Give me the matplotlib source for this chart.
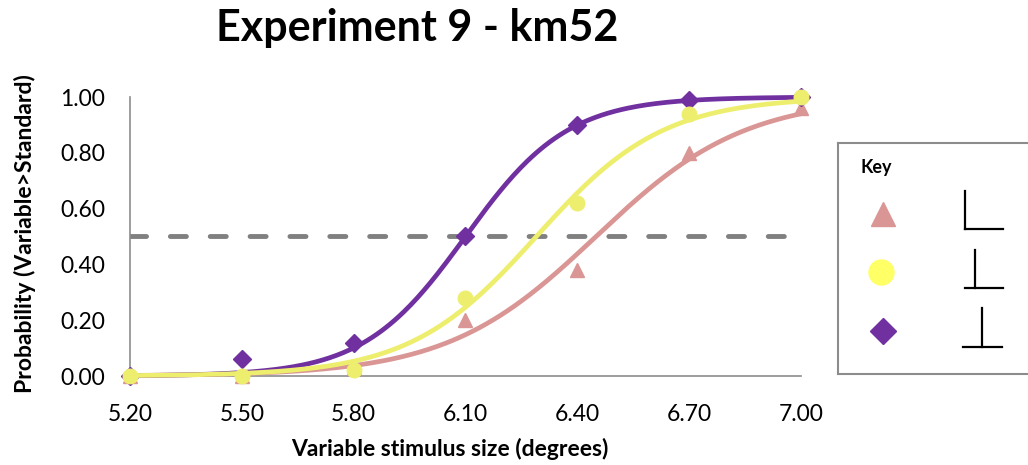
import matplotlib.pyplot as plt
import numpy as np

plt.rcParams['font.family'] = ['Lato', 'DejaVu Sans']

# data
sizes = [5.20, 5.50, 5.80, 6.10, 6.40, 6.70, 7.00]
p_triangle = [0.00, 0.00, 0.03, 0.20, 0.38, 0.80, 0.96]
p_circle = [0.00, 0.00, 0.02, 0.28, 0.62, 0.94, 1.00]
p_diamond = [0.00, 0.06, 0.12, 0.50, 0.90, 0.99, 1.00]
y_ticks = [0.0, 0.2, 0.4, 0.6, 0.8, 1.0]

# fitted logistic curves: (threshold, spread)
fit_triangle = (6.45, 0.20)
fit_circle = (6.29, 0.17)
fit_diamond = (6.10, 0.137)

col_pink = '#D99694'
col_yellow = '#EEEE6E'
col_purple = '#7030A0'

W, H = 1028, 465
fig = plt.figure(figsize=(W / 100, H / 100), dpi=100)
ax = fig.add_axes([130 / W, (H - 376) / H, (801 - 130) / W, (376 - 97) / H])

xs = np.linspace(sizes[0], sizes[-1], 300)

def curve(params):
    mu, s = params
    return 1 / (1 + np.exp(-(xs - mu) / s))

series = [
    (p_triangle, fit_triangle, col_pink, '^', 10.5),
    (p_diamond, fit_diamond, col_purple, 'D', 9),
    (p_circle, fit_circle, col_yellow, 'o', 10.5),
]
for z, (vals, fit, c, m, ms) in enumerate(series):
    ax.plot(xs, curve(fit), color=c, lw=3.4, zorder=3 + z, clip_on=False)
    ax.plot(sizes, vals, ls='none', marker=m, ms=ms, color=c, mec=c,
            zorder=3 + z, clip_on=False)

ax.axhline(0.5, color='#808080', lw=3.5, dashes=(3.3, 4.9), zorder=2,
           dash_capstyle='round')

ax.set_xlim(5.2, 7.0)
ax.set_ylim(0, 1)
ax.set_xticks(sizes)
ax.set_xticklabels([f'{v:.2f}' for v in sizes])
ax.set_yticks(y_ticks)
ax.set_yticklabels([f'{v:.2f}' for v in y_ticks])
ax.tick_params(length=0, labelsize=16.5)
ax.tick_params(axis='x', pad=20)
ax.tick_params(axis='y', pad=18)
for side in ['top', 'right']:
    ax.spines[side].set_visible(False)
for side in ['left', 'bottom']:
    ax.spines[side].set_color('#8C8C8C')
    ax.spines[side].set_linewidth(1.2)

fig.text(450 / W, 1 - 449 / H, 'Variable stimulus size (degrees)', fontsize=16.5,
         fontweight='bold', ha='center', va='center')
fig.text(25 / W, 1 - 234 / H, 'Probability (Variable>Standard)', fontsize=16.5,
         fontweight='bold', ha='center', va='center', rotation=90)
fig.text(417 / W, 1 - 28 / H, 'Experiment 9 - km52', fontsize=31,
         fontweight='bold', ha='center', va='center')

# key box, drawn in pixel coordinates
kx = fig.add_axes([838 / W, (H - 374) / H, (1040 - 838) / W, (374 - 143) / H])
kx.set_xlim(838, 1040)
kx.set_ylim(374, 143)
kx.set_xticks([])
kx.set_yticks([])
for sp in kx.spines.values():
    sp.set_color('#8C8C8C')
    sp.set_linewidth(1.5)
kx.text(876, 168, 'Key', fontsize=13, fontweight='bold', ha='center', va='center')
kx.plot(883, 214, marker='^', ms=17, color='#DA9694', ls='none')
kx.plot(881, 272, marker='o', ms=18, color='#FFFF66', ls='none')
kx.plot(883, 331, marker='D', ms=13, color=col_purple, ls='none')
icons = [
    ((965, 191), (965, 229), (965, 229), (1003, 229)),
    ((975, 250), (975, 288), (965, 288), (1003, 288)),
    ((982, 308), (982, 347), (963, 347), (1002, 347)),
]
for a, b, c, d in icons:
    kx.plot([a[0], b[0]], [a[1], b[1]], color='black', lw=1.6)
    kx.plot([c[0], d[0]], [c[1], d[1]], color='black', lw=1.6)

fig.savefig('out.png', dpi=100)
